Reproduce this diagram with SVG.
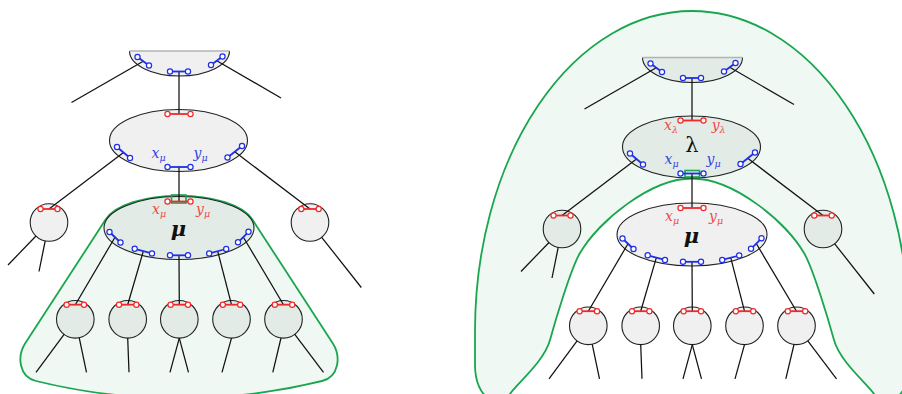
<svg xmlns="http://www.w3.org/2000/svg" width="902" height="394" viewBox="0 0 902 394">
<style>
.nd{fill:#f0f0f0;stroke:#222;stroke-width:1.1}
.ng{fill:#e3ebe6;stroke:#222;stroke-width:1.1}
.tl{stroke:#b3b3b3;stroke-width:1.6}
.ln{stroke:#111;stroke-width:1.25;fill:none}
.rg{fill:#eff8f3;stroke:#1aa64e;stroke-width:1.8}
.nb{fill:none;stroke:#1aa64e;stroke-width:1.6}
.pr line{stroke:#ee2a2a;stroke-width:1.8}
.pr circle{fill:#fff;stroke:#ee2a2a;stroke-width:1.2}
.pb line{stroke:#1f2ee8;stroke-width:1.8}
.pb circle{fill:#fff;stroke:#1f2ee8;stroke-width:1.2}
.lr{fill:#f04848;font-family:"DejaVu Serif",serif;font-style:italic;font-size:14px}
.lb{fill:#3343e0;font-family:"DejaVu Serif",serif;font-style:italic;font-size:14px}
.sb{font-size:9.5px}
.big{font-family:"DejaVu Serif",serif;font-size:21px;fill:#111;text-anchor:middle}
</style>

<!-- green regions -->
<g id="regions">
<path id="region-left" class="rg" d="M105.8,219.3 A76,32.5 0 0 1 252.2,219.3 L332.6,343 C341.3,356.4 339,377.1 322,381 A600,600 0 0 1 36,381 C19,377.1 16.7,356.4 25.4,343 Z"/>
<path id="region-right" class="rg" d="M475,331 L475,365 C475,400 500,410 510,394 C516,384.4 544,362 550,340 C555,322 570.8,268.5 580,253 C598,222 650,178.5 692,178.5 C734,178.5 786,222 804,253 C813.2,268.5 829,322 834,340 C840,362 868,384.4 874,394 C884,410 909,400 909,365 L909,331 A217,320 0 0 0 475,331 Z"/>
</g>

<!-- LEFT TREE -->
<g id="left-tree">
<g id="L-top">
<path class="nd" d="M129.5,51 A50,25 0 0 0 229.5,51"/>
<line class="tl" x1="129.5" y1="51" x2="229.5" y2="51"/>
</g>
<g id="L-mid">
<ellipse class="nd" cx="178.5" cy="140.5" rx="69" ry="31"/>
<text class="lb" x="151.5" y="157.5">x<tspan class="sb" dy="3">μ</tspan></text>
<text class="lb" x="193.5" y="157.5">y<tspan class="sb" dy="3">μ</tspan></text>
</g>
<g id="L-side-left"><circle class="nd" cx="49" cy="222.5" r="18.8"/></g>
<g id="L-side-right"><circle class="nd" cx="310" cy="222.5" r="18.8"/></g>
<g id="L-mu">
<ellipse class="ng" cx="179" cy="228" rx="75" ry="31.5"/>
<rect class="nb" x="171.5" y="195" width="14.5" height="8"/>
<text class="lr" x="152" y="214">x<tspan class="sb" dy="3">μ</tspan></text>
<text class="lr" x="196" y="214">y<tspan class="sb" dy="3">μ</tspan></text>
<text class="big" x="178.5" y="236" font-weight="bold" font-style="italic">μ</text>
</g>
<g id="L-c1"><circle class="ng" cx="75.3" cy="319.3" r="18.8"/></g>
<g id="L-c2"><circle class="ng" cx="127.7" cy="319.3" r="18.8"/></g>
<g id="L-c3"><circle class="ng" cx="179.3" cy="319.3" r="18.8"/></g>
<g id="L-c4"><circle class="ng" cx="231.5" cy="319.3" r="18.8"/></g>
<g id="L-c5"><circle class="ng" cx="283.5" cy="319.3" r="18.8"/></g>

<g id="L-connectors" class="ln">
<line x1="143.25" y1="61.25" x2="71.5" y2="102.5"/>
<line x1="216.75" y1="60.75" x2="281" y2="98"/>
<line x1="179" y1="71.5" x2="179" y2="114"/>
<line x1="123.5" y1="152.5" x2="49" y2="209"/>
<line x1="234.75" y1="151.75" x2="310" y2="209"/>
<line x1="179" y1="167" x2="179" y2="201.5"/>
<line x1="36" y1="236" x2="8" y2="265"/>
<line x1="45.2" y1="240.9" x2="39" y2="271.5"/>
<line x1="321.7" y1="237.3" x2="361.3" y2="287.5"/>
<line x1="115" y1="237.25" x2="75.3" y2="304.7"/>
<line x1="143.35" y1="251.1" x2="127.7" y2="304.7"/>
<line x1="179" y1="255.3" x2="179.3" y2="304.7"/>
<line x1="217.7" y1="251.2" x2="231.5" y2="304.7"/>
<line x1="243.25" y1="237" x2="283.5" y2="304.7"/>
<line x1="64.1" y1="334.4" x2="36" y2="372.3"/>
<line x1="79.2" y1="337.7" x2="86.5" y2="372.3"/>
<line x1="127.7" y1="338.1" x2="129" y2="372.3"/>
<line x1="179.3" y1="338.1" x2="170" y2="372.3"/>
<line x1="179.3" y1="338.1" x2="188.5" y2="372.3"/>
<line x1="231.5" y1="338.1" x2="222" y2="372.3"/>
<line x1="281" y1="338" x2="272.8" y2="372.3"/>
<line x1="294.8" y1="334.3" x2="323.5" y2="372.3"/>
</g>

<g id="L-ports">
<g class="pb"><line x1="137.5" y1="57" x2="149" y2="65.5"/><circle cx="137.5" cy="57" r="2.6"/><circle cx="149" cy="65.5" r="2.6"/></g>
<g class="pb"><line x1="170" y1="71.5" x2="188" y2="71.5"/><circle cx="170" cy="71.5" r="2.6"/><circle cx="188" cy="71.5" r="2.6"/></g>
<g class="pb"><line x1="211" y1="65" x2="222.5" y2="56.5"/><circle cx="211" cy="65" r="2.6"/><circle cx="222.5" cy="56.5" r="2.6"/></g>
<g class="pr"><line x1="167.5" y1="114" x2="190.5" y2="114"/><circle cx="167.5" cy="114" r="2.6"/><circle cx="190.5" cy="114" r="2.6"/></g>
<g class="pb"><line x1="117" y1="147" x2="130" y2="158"/><circle cx="117" cy="147" r="2.6"/><circle cx="130" cy="158" r="2.6"/></g>
<g class="pb"><line x1="227.5" y1="157.5" x2="242" y2="146"/><circle cx="227.5" cy="157.5" r="2.6"/><circle cx="242" cy="146" r="2.6"/></g>
<g class="pb"><line x1="167.5" y1="167" x2="190.5" y2="167"/><circle cx="167.5" cy="167" r="2.6"/><circle cx="190.5" cy="167" r="2.6"/></g>
<g class="pr"><line x1="40.5" y1="209" x2="57.5" y2="209"/><circle cx="40.5" cy="209" r="2.6"/><circle cx="57.5" cy="209" r="2.6"/></g>
<g class="pr"><line x1="301.3" y1="209" x2="318.7" y2="209"/><circle cx="301.3" cy="209" r="2.6"/><circle cx="318.7" cy="209" r="2.6"/></g>
<g class="pr"><line x1="167.5" y1="201.5" x2="190.5" y2="201.5"/><circle cx="167.5" cy="201.5" r="2.6"/><circle cx="190.5" cy="201.5" r="2.6"/></g>
<g class="pb"><line x1="109.5" y1="232" x2="120.5" y2="242.5"/><circle cx="109.5" cy="232" r="2.6"/><circle cx="120.5" cy="242.5" r="2.6"/></g>
<g class="pb"><line x1="134.7" y1="248.8" x2="152" y2="253.4"/><circle cx="134.7" cy="248.8" r="2.6"/><circle cx="152" cy="253.4" r="2.6"/></g>
<g class="pb"><line x1="170" y1="255.3" x2="188" y2="255.3"/><circle cx="170" cy="255.3" r="2.6"/><circle cx="188" cy="255.3" r="2.6"/></g>
<g class="pb"><line x1="209.2" y1="253.4" x2="226.2" y2="249"/><circle cx="209.2" cy="253.4" r="2.6"/><circle cx="226.2" cy="249" r="2.6"/></g>
<g class="pb"><line x1="238" y1="242.3" x2="248.5" y2="231.8"/><circle cx="238" cy="242.3" r="2.6"/><circle cx="248.5" cy="231.8" r="2.6"/></g>
<g class="pr"><line x1="66.6" y1="304.7" x2="84" y2="304.7"/><circle cx="66.6" cy="304.7" r="2.6"/><circle cx="84" cy="304.7" r="2.6"/></g>
<g class="pr"><line x1="119" y1="304.7" x2="136.4" y2="304.7"/><circle cx="119" cy="304.7" r="2.6"/><circle cx="136.4" cy="304.7" r="2.6"/></g>
<g class="pr"><line x1="170.6" y1="304.7" x2="188" y2="304.7"/><circle cx="170.6" cy="304.7" r="2.6"/><circle cx="188" cy="304.7" r="2.6"/></g>
<g class="pr"><line x1="222.8" y1="304.7" x2="240.2" y2="304.7"/><circle cx="222.8" cy="304.7" r="2.6"/><circle cx="240.2" cy="304.7" r="2.6"/></g>
<g class="pr"><line x1="274.8" y1="304.7" x2="292.2" y2="304.7"/><circle cx="274.8" cy="304.7" r="2.6"/><circle cx="292.2" cy="304.7" r="2.6"/></g>
</g>
</g>

<!-- RIGHT TREE -->
<g id="right-tree" transform="translate(513,6.5)">
<g id="R-top">
<path class="ng" d="M129.5,51 A50,25 0 0 0 229.5,51"/>
<line class="tl" x1="129.5" y1="51" x2="229.5" y2="51"/>
</g>
<g id="R-lambda">
<ellipse class="ng" cx="178.5" cy="140.5" rx="69" ry="31"/>
<rect class="nb" x="172" y="164" width="14.5" height="6.5"/>
<text class="lr" x="151" y="123.5">x<tspan class="sb" dy="3">λ</tspan></text>
<text class="lr" x="198.7" y="123.5">y<tspan class="sb" dy="3">λ</tspan></text>
<text class="big" x="179" y="145.2">λ</text>
<text class="lb" x="151.5" y="157.5">x<tspan class="sb" dy="3">μ</tspan></text>
<text class="lb" x="193.5" y="157.5">y<tspan class="sb" dy="3">μ</tspan></text>
</g>
<g id="R-side-left"><circle class="ng" cx="49" cy="222.5" r="18.8"/></g>
<g id="R-side-right"><circle class="ng" cx="310" cy="222.5" r="18.8"/></g>
<g id="R-mu">
<ellipse class="nd" cx="179" cy="228" rx="75" ry="31.5"/>
<text class="lr" x="152" y="214">x<tspan class="sb" dy="3">μ</tspan></text>
<text class="lr" x="196" y="214">y<tspan class="sb" dy="3">μ</tspan></text>
<text class="big" x="178.5" y="236" font-weight="bold" font-style="italic">μ</text>
</g>
<g id="R-c1"><circle class="nd" cx="75.3" cy="319.3" r="18.8"/></g>
<g id="R-c2"><circle class="nd" cx="127.7" cy="319.3" r="18.8"/></g>
<g id="R-c3"><circle class="nd" cx="179.3" cy="319.3" r="18.8"/></g>
<g id="R-c4"><circle class="nd" cx="231.5" cy="319.3" r="18.8"/></g>
<g id="R-c5"><circle class="nd" cx="283.5" cy="319.3" r="18.8"/></g>

<g id="R-connectors" class="ln">
<line x1="143.25" y1="61.25" x2="71.5" y2="102.5"/>
<line x1="216.75" y1="60.75" x2="281" y2="98"/>
<line x1="179" y1="71.5" x2="179" y2="114"/>
<line x1="123.5" y1="152.5" x2="49" y2="209"/>
<line x1="234.75" y1="151.75" x2="310" y2="209"/>
<line x1="179" y1="167" x2="179" y2="201.5"/>
<line x1="36" y1="236" x2="8" y2="265"/>
<line x1="45.2" y1="240.9" x2="39" y2="271.5"/>
<line x1="321.7" y1="237.3" x2="361.3" y2="287.5"/>
<line x1="115" y1="237.25" x2="75.3" y2="304.7"/>
<line x1="143.35" y1="251.1" x2="127.7" y2="304.7"/>
<line x1="179" y1="255.3" x2="179.3" y2="304.7"/>
<line x1="217.7" y1="251.2" x2="231.5" y2="304.7"/>
<line x1="243.25" y1="237" x2="283.5" y2="304.7"/>
<line x1="64.1" y1="334.4" x2="36" y2="372.3"/>
<line x1="79.2" y1="337.7" x2="86.5" y2="372.3"/>
<line x1="127.7" y1="338.1" x2="129" y2="372.3"/>
<line x1="179.3" y1="338.1" x2="170" y2="372.3"/>
<line x1="179.3" y1="338.1" x2="188.5" y2="372.3"/>
<line x1="231.5" y1="338.1" x2="222" y2="372.3"/>
<line x1="281" y1="338" x2="272.8" y2="372.3"/>
<line x1="294.8" y1="334.3" x2="323.5" y2="372.3"/>
</g>

<g id="R-ports">
<g class="pb"><line x1="137.5" y1="57" x2="149" y2="65.5"/><circle cx="137.5" cy="57" r="2.6"/><circle cx="149" cy="65.5" r="2.6"/></g>
<g class="pb"><line x1="170" y1="71.5" x2="188" y2="71.5"/><circle cx="170" cy="71.5" r="2.6"/><circle cx="188" cy="71.5" r="2.6"/></g>
<g class="pb"><line x1="211" y1="65" x2="222.5" y2="56.5"/><circle cx="211" cy="65" r="2.6"/><circle cx="222.5" cy="56.5" r="2.6"/></g>
<g class="pr"><line x1="167.5" y1="114" x2="190.5" y2="114"/><circle cx="167.5" cy="114" r="2.6"/><circle cx="190.5" cy="114" r="2.6"/></g>
<g class="pb"><line x1="117" y1="147" x2="130" y2="158"/><circle cx="117" cy="147" r="2.6"/><circle cx="130" cy="158" r="2.6"/></g>
<g class="pb"><line x1="227.5" y1="157.5" x2="242" y2="146"/><circle cx="227.5" cy="157.5" r="2.6"/><circle cx="242" cy="146" r="2.6"/></g>
<g class="pb"><line x1="167.5" y1="167" x2="190.5" y2="167"/><circle cx="167.5" cy="167" r="2.6"/><circle cx="190.5" cy="167" r="2.6"/></g>
<g class="pr"><line x1="40.5" y1="209" x2="57.5" y2="209"/><circle cx="40.5" cy="209" r="2.6"/><circle cx="57.5" cy="209" r="2.6"/></g>
<g class="pr"><line x1="301.3" y1="209" x2="318.7" y2="209"/><circle cx="301.3" cy="209" r="2.6"/><circle cx="318.7" cy="209" r="2.6"/></g>
<g class="pr"><line x1="167.5" y1="201.5" x2="190.5" y2="201.5"/><circle cx="167.5" cy="201.5" r="2.6"/><circle cx="190.5" cy="201.5" r="2.6"/></g>
<g class="pb"><line x1="109.5" y1="232" x2="120.5" y2="242.5"/><circle cx="109.5" cy="232" r="2.6"/><circle cx="120.5" cy="242.5" r="2.6"/></g>
<g class="pb"><line x1="134.7" y1="248.8" x2="152" y2="253.4"/><circle cx="134.7" cy="248.8" r="2.6"/><circle cx="152" cy="253.4" r="2.6"/></g>
<g class="pb"><line x1="170" y1="255.3" x2="188" y2="255.3"/><circle cx="170" cy="255.3" r="2.6"/><circle cx="188" cy="255.3" r="2.6"/></g>
<g class="pb"><line x1="209.2" y1="253.4" x2="226.2" y2="249"/><circle cx="209.2" cy="253.4" r="2.6"/><circle cx="226.2" cy="249" r="2.6"/></g>
<g class="pb"><line x1="238" y1="242.3" x2="248.5" y2="231.8"/><circle cx="238" cy="242.3" r="2.6"/><circle cx="248.5" cy="231.8" r="2.6"/></g>
<g class="pr"><line x1="66.6" y1="304.7" x2="84" y2="304.7"/><circle cx="66.6" cy="304.7" r="2.6"/><circle cx="84" cy="304.7" r="2.6"/></g>
<g class="pr"><line x1="119" y1="304.7" x2="136.4" y2="304.7"/><circle cx="119" cy="304.7" r="2.6"/><circle cx="136.4" cy="304.7" r="2.6"/></g>
<g class="pr"><line x1="170.6" y1="304.7" x2="188" y2="304.7"/><circle cx="170.6" cy="304.7" r="2.6"/><circle cx="188" cy="304.7" r="2.6"/></g>
<g class="pr"><line x1="222.8" y1="304.7" x2="240.2" y2="304.7"/><circle cx="222.8" cy="304.7" r="2.6"/><circle cx="240.2" cy="304.7" r="2.6"/></g>
<g class="pr"><line x1="274.8" y1="304.7" x2="292.2" y2="304.7"/><circle cx="274.8" cy="304.7" r="2.6"/><circle cx="292.2" cy="304.7" r="2.6"/></g>
</g>
</g>
</svg>
